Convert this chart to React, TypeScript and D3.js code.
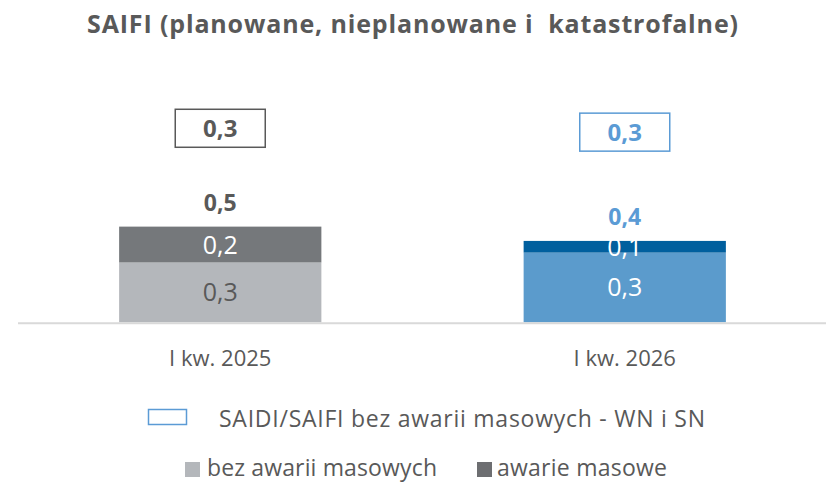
import React from "react";
import * as d3 from "d3";

// ---- data ----
const categories = ["I kw. 2025", "I kw. 2026"];
const bezAwariiMasowych = [0.297, 0.346];
const awarieMasowe = [0.178, 0.058];
const saidiSaifiWnSn = [0.301, 0.295];
const title = "SAIFI (planowane, nieplanowane i\u00a0 katastrofalne)";
const legendBoxLabel = "SAIDI/SAIFI bez awarii masowych - WN i SN";
const legendSeries = ["bez awarii masowych", "awarie masowe"];

// ---- styles ----
const W = 826;
const H = 482;
const FONT = "'Open Sans', sans-serif";
const TEXT = "#595959";
const bottomColors = ["#b4b7bb", "#5b9bcc"];
const topColors = ["#75787b", "#005f9e"];
const accent = [TEXT, "#5b9bd5"];
const bottomLabelColors = [TEXT, "#ffffff"];

const fmt = (v: number) => v.toFixed(1).replace(".", ",");

export default function App() {
  const baseY = 322.3;
  const x = d3.scaleBand<string>().domain(categories).range([18, 827]).paddingInner(0.5).paddingOuter(0.25);
  const y = d3.scaleLinear().domain([0, 1.6]).range([baseY, 0]);
  const y2 = d3.scaleLinear().domain([0, 0.5]).range([baseY, 0]);

  const stacked = d3.stack<any>().keys(["a", "b"])(
    categories.map((c, i) => ({ a: bezAwariiMasowych[i], b: awarieMasowe[i] }))
  );

  return (
    <svg width={W} height={H} style={{ position: "absolute", left: 0, top: 0, background: "#fff" }}>
      <text x={87} y={33} textLength={651} fontFamily={FONT} fontWeight={700} fontSize={25} fill={TEXT}>
        {title}
      </text>

      {categories.map((c, i) => {
        const x0 = x(c)!;
        const bw = x.bandwidth();
        const cx = x0 + bw / 2;
        const s0 = stacked[0][i];
        const s1 = stacked[1][i];
        const total = s1[1];
        return (
          <g key={c}>
            <rect x={x0} y={y(s0[1])} width={bw} height={y(s0[0]) - y(s0[1])} fill={bottomColors[i]} />
            <rect x={x0} y={y(s1[1])} width={bw} height={y(s1[0]) - y(s1[1])} fill={topColors[i]} />
            <text x={cx} y={(y(s0[0]) + y(s0[1])) / 2} dy="0.36em" textAnchor="middle" fontFamily={FONT} fontSize={25} fill={bottomLabelColors[i]}>
              {fmt(bezAwariiMasowych[i])}
            </text>
            <text x={cx} y={(y(s1[0]) + y(s1[1])) / 2} dy="0.36em" textAnchor="middle" fontFamily={FONT} fontSize={25} fill="#ffffff">
              {fmt(awarieMasowe[i])}
            </text>
            <text x={cx} y={y(total) - 16} textAnchor="middle" fontFamily={FONT} fontWeight={700} fontSize={23} fill={accent[i]}>
              {fmt(total)}
            </text>
            <g transform={`translate(${cx},${y2(saidiSaifiWnSn[i])})`}>
              <rect x={-45} y={-19} width={90} height={38} fill="#fff" stroke={accent[i]} strokeWidth={1.5} />
              <text y={0} dy="0.36em" textAnchor="middle" fontFamily={FONT} fontWeight={700} fontSize={24} fill={accent[i]}>
                {fmt(saidiSaifiWnSn[i])}
              </text>
            </g>
            <text x={cx} y={365.5} textAnchor="middle" fontFamily={FONT} fontSize={22} fill={TEXT}>
              {c}
            </text>
          </g>
        );
      })}

      <line x1={18} x2={826} y1={323.3} y2={323.3} stroke="#d9d9d9" strokeWidth={2} />

      {/* legend */}
      <rect x={148.5} y={409.5} width={38} height={15} fill="#fff" stroke="#5b9bd5" strokeWidth={1.5} />
      <text x={219} y={427} textLength={486} fontFamily={FONT} fontSize={23} fill={TEXT}>{legendBoxLabel}</text>
      <rect x={185} y={462} width={15} height={15} fill={bottomColors[0]} />
      <text x={207} y={476} textLength={230} fontFamily={FONT} fontSize={23} fill={TEXT}>{legendSeries[0]}</text>
      <rect x={477} y={462} width={15} height={15} fill="#6d6e71" />
      <text x={497} y={476} textLength={170} fontFamily={FONT} fontSize={23} fill={TEXT}>{legendSeries[1]}</text>
    </svg>
  );
}
